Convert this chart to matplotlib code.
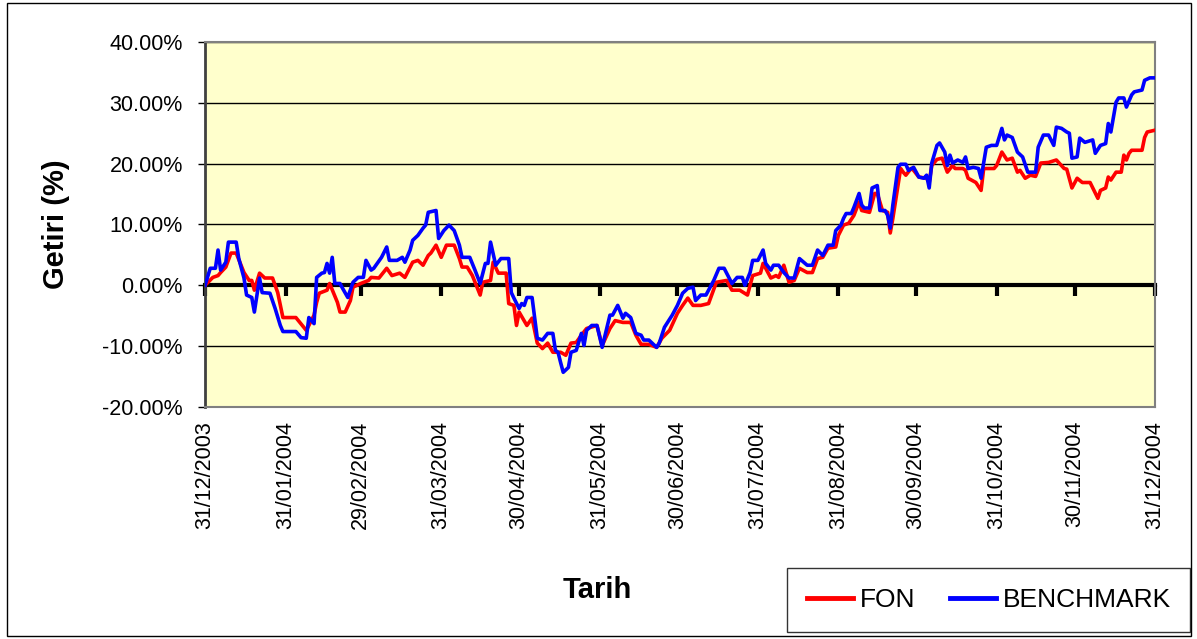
import pandas as pd
import matplotlib
matplotlib.use("Agg")
import matplotlib.pyplot as plt
from matplotlib.ticker import FuncFormatter
import matplotlib.dates as mdates
from matplotlib.patches import Rectangle

plt.rcParams['font.family'] = ['Liberation Sans', 'DejaVu Sans']

start = pd.Timestamp('2003-12-31')
end = pd.Timestamp('2004-12-31')

# days since 31/12/2003 and cumulative return in %
bench_days = [0, 2, 4, 5, 6, 8, 9, 12, 13, 15, 16, 18, 19, 21, 22, 25, 27, 29, 30, 35,
              37, 39, 40, 42, 43, 45, 46, 47, 48, 49, 50, 52, 53, 55, 57, 59, 61, 62, 64, 65,
              68, 70, 71, 74, 76, 77, 79, 80, 82, 84, 85, 86, 89, 90, 92, 94, 96, 98, 99, 102,
              104, 106, 108, 109, 110, 112, 114, 117, 118, 119, 121, 122, 123, 124, 126, 128, 130, 132, 134, 135,
              136, 137, 138, 140, 141, 143, 145, 146, 147, 149, 151, 153, 156, 157, 159, 161, 162, 164, 166, 168,
              169, 171, 174, 175, 177, 180, 182, 184, 186, 188, 189, 191, 193, 196, 198, 200, 203, 205, 207, 208,
              210, 211, 213, 215, 216, 218, 219, 221, 223, 225, 227, 229, 232, 234, 236, 238, 240, 242, 243, 245,
              246, 247, 249, 250, 252, 253, 254, 256, 257, 259, 260, 262, 263, 264, 265, 267, 268, 270, 271, 273,
              275, 277, 278, 279, 280, 282, 283, 285, 286, 287, 288, 290, 292, 293, 294, 296, 298, 299, 301, 303,
              305, 307, 308, 309, 311, 313, 315, 317, 320, 321, 323, 325, 327, 328, 330, 332, 333, 334, 336, 337,
              339, 342, 343, 345, 347, 348, 349, 351, 352, 354, 355, 357, 358, 361, 362, 364, 366]
bench = [0.0, 2.8, 2.8, 5.8, 2.5, 3.8, 7.1, 7.1, 4.4, 1.2, -1.6, -2.0, -4.4, 1.2, -1.2, -1.3, -3.8, -6.6, -7.6, -7.6,
         -8.6, -8.7, -5.3, -6.3, 1.3, 2.0, 2.1, 3.6, 2.0, 4.6, 0.3, 0.3, -0.5, -2.0, 0.5, 1.3, 1.3, 4.1, 2.5, 2.8,
         4.6, 6.3, 4.1, 4.1, 4.6, 3.8, 5.8, 7.4, 8.2, 9.4, 9.9, 12.0, 12.3, 7.7, 9.0, 9.9, 9.0, 6.6, 4.6, 4.6,
         2.5, 0.3, 3.6, 3.6, 7.1, 3.3, 4.4, 4.4, -1.2, -2.1, -3.8, -3.0, -3.3, -2.0, -2.0, -8.7, -9.0, -7.9, -7.9, -10.7,
         -11.0, -12.7, -14.3, -13.5, -11.0, -10.7, -7.9, -9.9, -7.4, -6.6, -6.6, -10.2, -4.9, -4.9, -3.3, -5.4, -4.6, -5.3, -7.9, -8.2,
         -9.0, -9.0, -10.2, -9.5, -6.9, -4.9, -3.3, -1.3, -0.5, -0.3, -2.5, -1.6, -1.6, 0.8, 2.8, 2.8, 0.3, 1.3, 1.3, 0.0,
         2.1, 4.1, 4.1, 5.8, 3.6, 2.5, 3.3, 3.3, 2.1, 1.2, 1.2, 4.4, 3.3, 3.3, 5.8, 4.9, 6.6, 6.6, 9.0, 9.9,
         11.0, 11.8, 11.8, 12.8, 15.1, 13.2, 12.7, 12.7, 16.0, 16.4, 12.3, 12.3, 11.5, 9.4, 13.2, 19.4, 19.9, 19.9, 18.9, 19.4,
         17.8, 17.6, 18.1, 16.0, 20.1, 23.0, 23.4, 21.9, 19.7, 21.4, 20.1, 20.6, 20.2, 21.1, 19.2, 19.4, 19.2, 17.6, 22.7, 23.0,
         23.0, 25.8, 23.9, 24.7, 24.3, 21.9, 21.1, 18.6, 18.6, 22.7, 24.7, 24.7, 23.0, 26.0, 25.8, 25.2, 25.0, 20.9, 21.1, 24.2,
         23.5, 23.9, 21.7, 23.0, 23.3, 26.6, 25.2, 30.1, 30.8, 30.8, 29.3, 31.3, 31.8, 32.1, 33.7, 34.1, 34.1]

fon_days = [0, 3, 5, 6, 8, 10, 12, 15, 17, 18, 19, 21, 23, 26, 28, 30, 35, 39, 40, 42,
            43, 44, 47, 48, 51, 52, 54, 56, 57, 60, 63, 64, 67, 70, 72, 75, 77, 80, 82, 84,
            86, 87, 89, 91, 93, 96, 98, 99, 101, 103, 106, 107, 110, 111, 113, 116, 117, 119, 120, 121,
            124, 126, 128, 130, 132, 134, 137, 139, 141, 143, 145, 147, 151, 153, 156, 158, 161, 164, 166, 168,
            171, 174, 176, 179, 182, 184, 186, 188, 191, 194, 197, 201, 203, 206, 209, 211, 214, 215, 218, 220,
            221, 223, 225, 227, 229, 232, 234, 236, 238, 240, 243, 244, 246, 248, 250, 252, 253, 256, 258, 259,
            261, 263, 264, 265, 268, 269, 270, 272, 273, 275, 278, 279, 280, 282, 284, 286, 288, 289, 292, 293,
            294, 297, 299, 300, 304, 305, 307, 309, 311, 313, 314, 316, 318, 320, 322, 325, 328, 331, 332, 334,
            336, 338, 341, 344, 345, 347, 348, 349, 351, 353, 354, 355, 356, 357, 361, 362, 363, 366]
fon = [0.0, 1.3, 1.6, 2.1, 3.0, 5.3, 5.3, 2.1, 0.8, 0.8, -0.8, 2.0, 1.2, 1.2, -1.2, -5.3, -5.3, -7.4, -6.6, -4.9,
       -2.8, -1.3, -0.8, 0.3, -2.8, -4.4, -4.4, -2.5, -0.3, 0.3, 0.8, 1.3, 1.2, 2.8, 1.6, 2.0, 1.3, 3.8, 4.1, 3.3,
       4.9, 5.3, 6.6, 4.6, 6.6, 6.6, 4.4, 3.0, 3.0, 1.6, -1.6, 0.5, 0.8, 3.8, 2.0, 2.0, -3.0, -3.3, -6.6, -4.4,
       -6.6, -5.4, -9.5, -10.4, -9.5, -11.0, -11.0, -11.5, -9.5, -9.4, -8.2, -7.1, -6.6, -9.9, -7.1, -5.8, -6.1, -6.1, -8.2, -9.7,
       -9.7, -10.2, -8.7, -7.4, -4.6, -3.3, -2.1, -3.3, -3.3, -3.0, 0.5, 0.8, -0.8, -0.8, -1.6, 1.6, 2.0, 3.6, 1.2, 1.6,
       1.3, 3.3, 0.5, 0.8, 2.8, 2.1, 2.1, 4.4, 4.6, 6.1, 6.3, 8.2, 9.9, 10.2, 11.5, 13.7, 12.3, 12.0, 15.1, 15.1,
       12.3, 12.0, 8.6, 11.0, 19.2, 18.6, 18.1, 19.2, 18.9, 17.8, 17.6, 16.9, 19.7, 20.7, 20.9, 18.6, 19.7, 19.2, 19.2, 18.9,
       17.6, 16.9, 15.6, 19.2, 19.2, 19.7, 21.9, 20.6, 20.9, 18.6, 18.9, 17.6, 18.1, 17.9, 20.1, 20.2, 20.6, 19.2, 19.1, 16.0,
       17.6, 16.9, 16.9, 14.3, 15.6, 16.0, 17.8, 17.3, 18.6, 18.6, 21.4, 20.6, 21.7, 22.2, 22.2, 24.3, 25.2, 25.5]

bench_dates = start + pd.to_timedelta(bench_days, unit='D')
fon_dates = start + pd.to_timedelta(fon_days, unit='D')
month_ends = pd.date_range(start, end, freq='ME')

fig = plt.figure(figsize=(11.97, 6.39), dpi=100)
ax = fig.add_axes([0.1713, 0.3631, 0.7936, 0.5712])
ax.set_facecolor('#FFFFCC')

ax.plot(fon_dates, fon, color='#FF0000', lw=2.6, label='FON', zorder=3)
ax.plot(bench_dates, bench, color='#0000FF', lw=2.6, label='BENCHMARK', zorder=4)

ax.set_xlim(start, end)
ax.set_ylim(-20, 40)
ax.set_yticks(range(-20, 41, 10))
ax.yaxis.set_major_formatter(FuncFormatter(lambda v, p: f'{v:.2f}%'))
ax.yaxis.grid(True, color='black', lw=1)
ax.set_axisbelow(True)

ax.set_xticks(month_ends)
ax.xaxis.set_major_formatter(mdates.DateFormatter('%d/%m/%Y'))
ax.tick_params(axis='x', length=0, labelsize=15.5, rotation=90, pad=10)
ax.tick_params(axis='y', length=5, width=1, labelsize=15.5, direction='out', pad=11)

for s in ax.spines.values():
    s.set_color('#808080')
    s.set_linewidth(1.5)
ax.spines['left'].set_color('#404040')
ax.spines['left'].set_linewidth(2)

# category axis crossing at zero
zero_ax = ax.secondary_xaxis(1 / 3)
zero_ax.set_xticks(month_ends)
zero_ax.set_xticklabels([])
zero_ax.tick_params(length=8, width=3, color='black', direction='out')
for s in ['top', 'bottom']:
    zero_ax.spines[s].set_color('black')
    zero_ax.spines[s].set_linewidth(3)

ax.set_ylabel('Getiri (%)', fontsize=21, fontweight='bold', labelpad=23)
fig.text(0.499, 0.076, 'Tarih', fontsize=21, fontweight='bold', ha='center', va='center')

leg = fig.legend(loc='lower right', bbox_to_anchor=(0.9945, 0.011), ncol=2, fontsize=19,
                 frameon=True, fancybox=False, edgecolor='black', handlelength=1.75,
                 handletextpad=0.25, columnspacing=1.3, borderpad=0.75, borderaxespad=0)
leg.get_frame().set_linewidth(1)
for h in leg.get_lines():
    h.set_linewidth(3.5)

fig.patches.append(Rectangle((0.006, 0.004), 0.989, 0.992, transform=fig.transFigure,
                             fill=False, edgecolor='black', lw=1))

fig.savefig('out.png', dpi=100)
